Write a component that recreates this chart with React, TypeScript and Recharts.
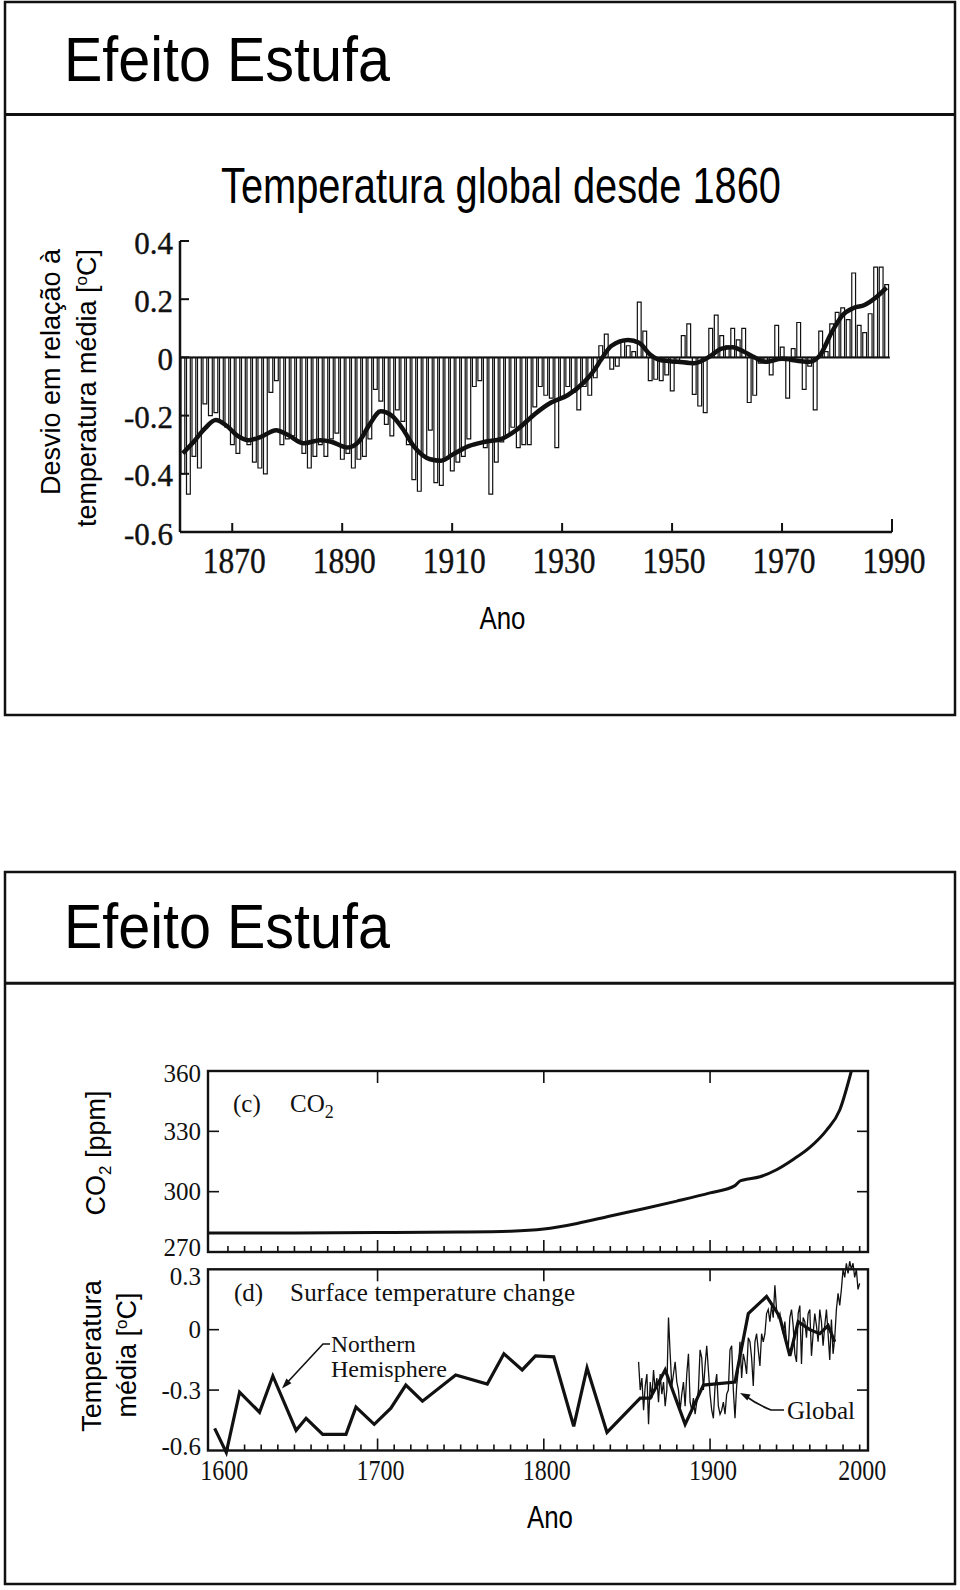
import React from 'react';
import { ComposedChart, Bar, Line, XAxis, YAxis, ReferenceLine } from 'recharts';

const INK = '#111';
const SERIF = '"Liberation Serif", "Times New Roman", serif';
const SANS = '"Liberation Sans", Arial, sans-serif';

// ---------- top slide: global temperature since 1860 ----------
const barYears = Array.from({ length: 129 }, (_, i) => 1861 + i);
const anomalies = [
  -0.40, -0.47, -0.34, -0.38, -0.16, -0.20, -0.19, -0.22, -0.24, -0.30,
  -0.33, -0.28, -0.30, -0.36, -0.38, -0.40, -0.12, -0.08, -0.30, -0.28,
  -0.27, -0.29, -0.33, -0.38, -0.34, -0.30, -0.34, -0.28, -0.26, -0.35,
  -0.33, -0.38, -0.35, -0.34, -0.28, -0.11, -0.15, -0.23, -0.27, -0.18,
  -0.22, -0.30, -0.42, -0.46, -0.34, -0.25, -0.43, -0.44, -0.35, -0.39,
  -0.36, -0.34, -0.28, -0.10, -0.08, -0.31, -0.47, -0.36, -0.29, -0.27,
  -0.24, -0.31, -0.30, -0.30, -0.17, -0.10, -0.13, -0.14, -0.31, -0.14,
  -0.10, -0.12, -0.18, -0.10, -0.13, -0.07, 0.04, 0.08, -0.04, -0.03,
  0.06, 0.04, 0.02, 0.19, 0.09, -0.08, -0.075, -0.08, -0.06, -0.115,
  -0.01, 0.075, 0.115, -0.127, -0.167, -0.19, 0.10, 0.145, 0.075, 0.04,
  0.10, 0.06, 0.10, -0.155, -0.13, -0.02, -0.02, -0.06, 0.11, 0.035,
  -0.14, 0.03, 0.12, -0.11, -0.03, -0.18, 0.09, 0.02, 0.115, 0.155,
  0.17, 0.13, 0.29, 0.11, 0.085, 0.15, 0.31, 0.31, 0.25,
];
const smoothYears = [
  1861, 1863, 1865, 1867, 1869, 1871, 1873, 1875, 1878, 1880, 1883, 1886, 1888,
  1891, 1893, 1895, 1897, 1899, 1901, 1903, 1906, 1908, 1910, 1913, 1916, 1919,
  1922, 1925, 1928, 1931, 1934, 1936, 1937, 1939, 1942, 1944, 1946, 1948, 1951,
  1954, 1957, 1959, 1961, 1963, 1965, 1967, 1970, 1973, 1975, 1977, 1979, 1981,
  1983, 1985, 1987, 1989,
];
const smoothValues = [
  -0.33, -0.29, -0.245, -0.215, -0.235, -0.27, -0.285, -0.275, -0.25, -0.265, -0.295, -0.285, -0.29,
  -0.31, -0.29, -0.23, -0.185, -0.2, -0.245, -0.305, -0.35, -0.355, -0.335, -0.305, -0.29, -0.28,
  -0.245, -0.195, -0.155, -0.13, -0.085, -0.04, -0.01, 0.04, 0.06, 0.05, 0.01, -0.01, -0.015,
  -0.02, 0.005, 0.03, 0.035, 0.02, 0.0, -0.015, -0.005, -0.012, -0.015, 0.01, 0.085, 0.145,
  0.17, 0.18, 0.205, 0.24,
];
const topYTicks = [0.4, 0.2, 0, -0.2, -0.4, -0.6];
const topXTicks = [1870, 1890, 1910, 1930, 1950, 1970, 1990];

// ---------- bottom slide: CO2 and surface temperature ----------
const co2Years = [1598, 1650, 1700, 1750, 1780, 1800, 1820, 1840, 1860, 1880, 1900, 1915, 1918, 1920, 1930, 1940, 1950, 1960, 1970, 1978, 1985];
const co2Values = [279.5, 279.5, 279.7, 279.9, 280.3, 281.4, 284.2, 287.9, 291.5, 295.3, 299.4, 303.0, 305.3, 305.8, 307.4, 310.9, 316.0, 322.0, 330.5, 340.6, 360];
const co2Ticks = [360, 330, 300, 270];

const nhYears = [
  1602, 1609, 1617, 1629, 1637, 1651, 1657, 1667, 1681, 1687, 1698, 1708, 1717, 1727,
  1747, 1766, 1776, 1787, 1795, 1806, 1818, 1826, 1838, 1858, 1864, 1873, 1885, 1896,
  1915, 1923, 1934, 1940, 1942, 1948, 1953, 1960, 1966, 1971, 1975,
];
const nhValues = [
  -0.49, -0.61, -0.31, -0.41, -0.23, -0.5, -0.44, -0.52, -0.52, -0.385, -0.47, -0.39, -0.275, -0.355,
  -0.225, -0.27, -0.12, -0.2, -0.13, -0.135, -0.48, -0.19, -0.51, -0.34, -0.34, -0.2, -0.47, -0.275,
  -0.26, 0.08, 0.165, 0.09, 0.06, -0.13, 0.04, 0.0, -0.02, 0.02, -0.06,
];
const globalYears = Array.from({ length: 134 }, (_, i) => 1857 + i);
const globalValues = [
  -0.16, -0.30, -0.24, -0.40, -0.28, -0.22, -0.47, -0.26, -0.34, -0.20,
  -0.30, -0.24, -0.36, -0.22, -0.32, -0.26, -0.38, -0.30, 0.06, -0.12,
  -0.28, -0.22, -0.16, -0.26, -0.30, -0.40, -0.32, -0.26, -0.38, -0.22,
  -0.12, -0.36, -0.40, -0.34, -0.42, -0.36, -0.30, -0.10, -0.14, -0.30,
  -0.18, -0.08, -0.20, -0.32, -0.40, -0.44, -0.28, -0.22, -0.38, -0.42,
  -0.40, -0.36, -0.42, -0.32, -0.30, -0.10, -0.08, -0.30, -0.44, -0.28,
  -0.20, -0.06, -0.24, -0.12, -0.16, -0.22, -0.04, -0.06, -0.14, -0.28,
  -0.06, -0.02, -0.10, -0.18, -0.02, -0.06, -0.02, 0.08, 0.10, 0.04,
  0.12, 0.06, 0.22, 0.10, 0.06, 0.08, 0.02, -0.02, 0.04, -0.06,
  -0.10, 0.06, 0.10, 0.02, -0.12, -0.16, 0.08, 0.12, -0.17, 0.06,
  0.04, -0.04, 0.08, 0.10, -0.13, -0.02, 0.08, 0.02, -0.06, 0.10,
  0.04, -0.08, 0.02, 0.10, -0.02, -0.15, 0.05, -0.12, -0.04, 0.10,
  0.18, 0.12, 0.20, 0.30, 0.26, 0.33, 0.28, 0.34, 0.30, 0.33,
  0.26, 0.30, 0.20, 0.23,
];
const tempTicks = [0.3, 0, -0.3, -0.6];
const decadeTicks = Array.from({ length: 41 }, (_, i) => 1600 + i * 10);

const topData = barYears.map((year, i) => {
  const s = smoothYears.indexOf(year);
  return { year, anomaly: anomalies[i], smooth: s >= 0 ? smoothValues[s] : null };
});
const co2Data = co2Years.map((year, i) => ({ year, co2: co2Values[i] }));
const tempData = Array.from(new Set([...nhYears, ...globalYears]))
  .sort((a, b) => a - b)
  .map((year) => {
    const n = nhYears.indexOf(year);
    const g = globalYears.indexOf(year);
    return { year, nh: n >= 0 ? nhValues[n] : null, global: g >= 0 ? globalValues[g] : null };
  });

// panel frame of the lower slide
const PANEL_LEFT = 208;
const PANEL_RIGHT = 868;
const CO2_TOP = 1071;
const CO2_BOTTOM = 1252;
const TEMP_TOP = 1269.3;
const TEMP_BOTTOM = 1450.5;

const TopYTick = (props: any) => {
  const { y, payload } = props;
  const v = payload.value;
  return (
    <g>
      <line x1={180} x2={189} y1={y} y2={y} stroke={INK} strokeWidth={2} />
      <text x={173} y={y + 2} textAnchor="end" dominantBaseline="central" fontFamily={SERIF} fontSize={31}
        fill={INK} stroke={INK} strokeWidth={0.4}>
        {v === 0 ? '0' : v.toFixed(1)}
      </text>
    </g>
  );
};

const TopXTick = (props: any) => {
  const { x, payload } = props;
  return (
    <g>
      <line x1={x} x2={x} y1={532} y2={payload.value === 1990 ? 519 : 523} stroke={INK} strokeWidth={2} />
      <text x={x + 2} y={561} textAnchor="middle" dominantBaseline="central" fontFamily={SERIF} fontSize={36}
        textLength={63} lengthAdjust="spacingAndGlyphs" fill={INK} stroke={INK} strokeWidth={0.4}>
        {payload.value}
      </text>
    </g>
  );
};

const DecadeTick = (props: any) => {
  const { x, payload, top, bottom, labels } = props;
  const year = payload.value;
  const major = year % 100 === 0;
  const inside = year > 1600 && year < 1996;
  const dx = year === 1600 ? 13 : year === 2000 ? -14 : 3;
  return (
    <g>
      {inside && <line x1={x} x2={x} y1={bottom} y2={bottom - (major ? 12 : 6)} stroke={INK} strokeWidth={1.6} />}
      {inside && major && <line x1={x} x2={x} y1={top} y2={top + 12} stroke={INK} strokeWidth={1.6} />}
      {labels && major && (
        <text x={x + dx} y={1470} textAnchor="middle" dominantBaseline="central" fontFamily={SERIF} fontSize={29}
          textLength={48} lengthAdjust="spacingAndGlyphs" fill={INK}>
          {year}
        </text>
      )}
    </g>
  );
};

const PanelYTick = (props: any) => {
  const { y, payload, inner, fmt, shift } = props;
  const v = payload.value;
  const isInner = inner.includes(v);
  return (
    <g>
      {isInner && <line x1={PANEL_LEFT} x2={PANEL_LEFT + 11} y1={y} y2={y} stroke={INK} strokeWidth={1.6} />}
      {isInner && <line x1={PANEL_RIGHT} x2={PANEL_RIGHT - 11} y1={y} y2={y} stroke={INK} strokeWidth={1.6} />}
      <text x={201} y={y + shift(v)} textAnchor="end" dominantBaseline="central" fontFamily={SERIF} fontSize={25} fill={INK}>
        {fmt(v)}
      </text>
    </g>
  );
};

const layer: React.CSSProperties = { position: 'absolute', left: 0, top: 0 };

export default function App() {
  return (
    <div style={{ position: 'absolute', left: 0, top: 0, width: 960, height: 1590, background: '#fff', overflow: 'hidden' }}>
      <svg width={960} height={1590} style={layer}>
        {/* top slide */}
        <rect x={5} y={2} width={950} height={713} fill="none" stroke={INK} strokeWidth={2.5} />
        <line x1={5} x2={955} y1={114.5} y2={114.5} stroke={INK} strokeWidth={3} />
        <text x={64} y={81} fontFamily={SANS} fontSize={63} textLength={326} lengthAdjust="spacingAndGlyphs" fill="#000">
          Efeito Estufa
        </text>
        <text x={221} y={203} fontFamily={SANS} fontSize={50} textLength={560} lengthAdjust="spacingAndGlyphs" fill="#000">
          Temperatura global desde 1860
        </text>
        <text transform="translate(60,372) rotate(-90)" textAnchor="middle" fontFamily={SANS} fontSize={27} fill="#000">
          Desvio em relação à
        </text>
        <text transform="translate(96,388) rotate(-90)" textAnchor="middle" fontFamily={SANS} fontSize={27} fill="#000">
          temperatura média [<tspan dy={-9} fontSize={17}>o</tspan>
          <tspan dy={9}>C]</tspan>
        </text>
        <text x={479.5} y={628.5} fontFamily={SANS} fontSize={31} textLength={46} lengthAdjust="spacingAndGlyphs" fill="#000">
          Ano
        </text>

        {/* bottom slide */}
        <rect x={5} y={872} width={950} height={712} fill="none" stroke={INK} strokeWidth={2.5} />
        <line x1={5} x2={955} y1={983.3} y2={983.3} stroke={INK} strokeWidth={3} />
        <text x={64} y={948} fontFamily={SANS} fontSize={63} textLength={326} lengthAdjust="spacingAndGlyphs" fill="#000">
          Efeito Estufa
        </text>
        <text transform="translate(105,1153) rotate(-90)" textAnchor="middle" fontFamily={SANS} fontSize={27} fill="#000">
          CO<tspan dy={6} fontSize={17}>2</tspan>
          <tspan dy={-6}> [ppm]</tspan>
        </text>
        <text transform="translate(101,1356) rotate(-90)" textAnchor="middle" fontFamily={SANS} fontSize={27} fill="#000">
          Temperatura
        </text>
        <text transform="translate(135.5,1355) rotate(-90)" textAnchor="middle" fontFamily={SANS} fontSize={27} fill="#000">
          média [<tspan dy={-9} fontSize={17}>o</tspan>
          <tspan dy={9}>C]</tspan>
        </text>
        <text x={527} y={1527.6} fontFamily={SANS} fontSize={31} textLength={46} lengthAdjust="spacingAndGlyphs" fill="#000">
          Ano
        </text>

        <rect x={PANEL_LEFT} y={CO2_TOP} width={PANEL_RIGHT - PANEL_LEFT} height={CO2_BOTTOM - CO2_TOP} fill="none" stroke={INK} strokeWidth={2.4} />
        <rect x={PANEL_LEFT} y={TEMP_TOP} width={PANEL_RIGHT - PANEL_LEFT} height={TEMP_BOTTOM - TEMP_TOP} fill="none" stroke={INK} strokeWidth={2.4} />

        <text x={233} y={1112} fontFamily={SERIF} fontSize={25} fill={INK}>(c)</text>
        <text x={290} y={1112} fontFamily={SERIF} fontSize={25} fill={INK}>
          CO<tspan dy={6} fontSize={18}>2</tspan>
        </text>
        <text x={234} y={1301} fontFamily={SERIF} fontSize={25} fill={INK}>(d)</text>
        <text x={290} y={1301} fontFamily={SERIF} fontSize={25} textLength={285} lengthAdjust="spacing" fill={INK}>
          Surface temperature change
        </text>
        <text x={331} y={1352} fontFamily={SERIF} fontSize={23.5} fill={INK}>Northern</text>
        <text x={331} y={1377} fontFamily={SERIF} fontSize={23.5} textLength={116} lengthAdjust="spacingAndGlyphs" fill={INK}>Hemisphere</text>
        <polyline points="330,1344 323,1344 284,1386" fill="none" stroke={INK} strokeWidth={1.6} />
        <polygon points="282,1388.5 291.4,1383.2 286.4,1378.4" fill={INK} />
        <text x={787} y={1419} fontFamily={SERIF} fontSize={25} fill={INK}>Global</text>
        <path d="M784,1410 L771,1410 Q758,1405 744,1395" fill="none" stroke={INK} strokeWidth={1.6} />
        <polygon points="740,1393 750.5,1394.4 747.3,1400.6" fill={INK} />
      </svg>

      {/* top chart: yearly anomalies + smoothed curve */}
      <div style={layer}>
        <ComposedChart width={960} height={715} data={topData} margin={{ top: 241, right: 68, bottom: 182, left: 179 }}>
          <XAxis type="number" dataKey="year" domain={[1860.5, 1990]} ticks={topXTicks} interval={0} height={1}
            tickLine={false} axisLine={{ stroke: INK, strokeWidth: 2.5 }} tick={<TopXTick />} />
          <YAxis type="number" domain={[-0.6, 0.4]} ticks={topYTicks} interval={0} width={1}
            tickLine={false} axisLine={{ stroke: INK, strokeWidth: 2.5 }} tick={<TopYTick />} />
          <Bar dataKey="anomaly" barSize={3.8} fill="#fff" stroke={INK} strokeWidth={1.2} isAnimationActive={false} />
          <ReferenceLine segment={[{ x: 1860.5, y: 0 }, { x: 1989.6, y: 0 }]} stroke={INK} strokeWidth={2} />
          <Line type="monotone" dataKey="smooth" connectNulls stroke={INK} strokeWidth={4.5} dot={false} isAnimationActive={false} />
        </ComposedChart>
      </div>

      {/* CO2 panel */}
      <div style={layer}>
        <ComposedChart width={960} height={1590} data={co2Data}
          margin={{ top: CO2_TOP, right: 83.7, bottom: 1590 - CO2_BOTTOM - 1, left: PANEL_LEFT - 1 }}>
          <XAxis type="number" dataKey="year" domain={[1598, 2000]} ticks={decadeTicks} interval={0} height={1}
            tickLine={false} axisLine={false}
            tick={(p: any) => <DecadeTick {...p} top={CO2_TOP} bottom={CO2_BOTTOM} labels={false} />} />
          <YAxis type="number" domain={[270, 360]} ticks={co2Ticks} interval={0} width={1}
            tickLine={false} axisLine={false}
            tick={(p: any) => (
              <PanelYTick {...p} inner={[330, 300]} fmt={(v: number) => String(v)}
                shift={(v: number) => (v === 360 ? 2 : v === 270 ? -5 : 0)} />
            )} />
          <Line type="monotone" dataKey="co2" stroke={INK} strokeWidth={3} dot={false} isAnimationActive={false} />
        </ComposedChart>
      </div>

      {/* surface temperature panel */}
      <div style={layer}>
        <ComposedChart width={960} height={1590} data={tempData}
          margin={{ top: 1257.2, right: 83.7, bottom: 134.5, left: PANEL_LEFT - 1 }}>
          <XAxis type="number" dataKey="year" domain={[1598, 2000]} ticks={decadeTicks} interval={0} height={1}
            tickLine={false} axisLine={false}
            tick={(p: any) => <DecadeTick {...p} top={TEMP_TOP} bottom={TEMP_BOTTOM} labels />} />
          <YAxis type="number" domain={[-0.62, 0.36]} ticks={tempTicks} interval={0} width={1}
            tickLine={false} axisLine={false}
            tick={(p: any) => (
              <PanelYTick {...p} inner={[0, -0.3]} fmt={(v: number) => (v === 0 ? '0' : v.toFixed(1))}
                shift={(v: number) => (v === 0.3 ? 7 : v === -0.6 ? -4 : 0)} />
            )} />
          <Line type="linear" dataKey="global" connectNulls stroke={INK} strokeWidth={1.3} dot={false} isAnimationActive={false} />
          <Line type="linear" dataKey="nh" connectNulls stroke={INK} strokeWidth={3.2} dot={false} isAnimationActive={false} />
        </ComposedChart>
      </div>
    </div>
  );
}
